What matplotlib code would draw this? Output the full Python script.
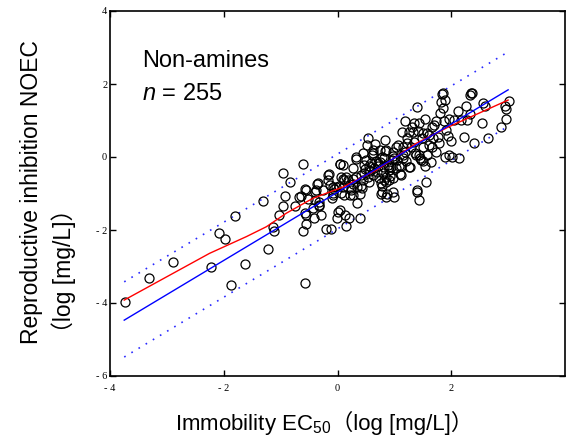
import numpy as np
import matplotlib
matplotlib.use("Agg")
import matplotlib.pyplot as plt
from matplotlib.ticker import FuncFormatter
from matplotlib.offsetbox import TextArea, HPacker, AnchoredOffsetbox

plt.rcParams['font.family'] = ['Liberation Sans', 'Noto Sans CJK JP']
plt.rcParams['mathtext.fontset'] = 'custom'
plt.rcParams['mathtext.rm'] = 'Liberation Sans'
plt.rcParams['mathtext.it'] = 'Liberation Sans:italic'

ec50 = [-3.74, -3.31, -2.89, -2.23, -2.08, -1.97, -1.87, -1.81, -1.62, -1.31,
        -1.22, -1.14, -1.12, -1.02, -0.96, -0.96, -0.93, -0.83, -0.74, -0.67,
        -0.64, -0.61, -0.60, -0.58, -0.57, -0.57, -0.55, -0.52, -0.43, -0.42,
        -0.39, -0.37, -0.36, -0.33, -0.32, -0.29, -0.25, -0.20, -0.14, -0.16,
        -0.15, -0.12, -0.09, -0.08, -0.07, -0.02, -0.01, 0.02, 0.04, 0.05,
        0.06, 0.09, 0.12, 0.14, 0.15, 0.18, 0.20, 0.22, 0.24, 0.27,
        0.28, 0.32, 0.33, 0.34, 0.35, 0.39, 0.40, 0.42, 0.43, 0.44,
        0.46, 0.47, 0.49, 0.50, 0.52, 0.53, 0.54, 0.55, 0.56, 0.57,
        0.59, 0.61, 0.62, 0.63, 0.65, 0.66, 0.68, 0.69, 0.71, 0.73,
        0.74, 0.75, 0.77, 0.78, 0.80, 0.81, 0.82, 0.84, 0.84, 0.85,
        0.87, 0.88, 0.90, 0.91, 0.92, 0.94, 0.96, 0.97, 0.98, 1.00,
        1.02, 1.03, 1.04, 1.06, 1.09, 1.10, 1.12, 1.12, 1.13, 1.15,
        1.16, 1.18, 1.19, 1.20, 1.22, 1.23, 1.25, 1.26, 1.27, 1.29,
        1.31, 1.32, 1.34, 1.35, 1.37, 1.38, 1.39, 1.40, 1.41, 1.43,
        1.44, 1.45, 1.47, 1.49, 1.50, 1.51, 1.53, 1.54, 1.56, 1.57,
        1.58, 1.60, 1.61, 1.64, 1.66, 1.67, 1.68, 1.70, 1.73, 1.74,
        1.76, 1.79, 1.80, 1.82, 1.83, 1.85, 1.86, 1.88, 1.89, 1.89,
        1.91, 1.94, 1.96, 1.96, 1.99, 2.01, 2.04, 2.11, 2.13, 2.17,
        2.23, 2.26, 2.27, 2.33, 2.35, 2.36, 2.33, 2.40, 2.54, 2.55,
        2.60, 2.64, 2.87, 2.95, 2.96, 2.97, 3.01,
        0.44, 0.32, 0.62, 0.79, 0.71, 0.27, 0.09, 0.15, 0.42, 0.24,
        0.12, 0.27, 0.77, 0.79, 0.85, 0.56,
        0.04, -0.35, -0.55, -0.40, -0.08, 0.06, 0.09, -0.32, -0.55, 0.00,
        -0.17, -0.08,
        0.85, 1.50, 1.00, 1.15, 1.43, 0.91, 0.97, 0.82, 0.97, 0.85, 1.39]
noec = [-3.98, -3.31, -2.89, -3.02, -2.09, -2.24, -3.51, -1.62, -2.93, -1.21,
        -2.53, -1.92, -2.03, -1.59, -0.43, -1.33, -1.08, -0.68, -1.33, -1.10,
        -1.06, -0.19, -2.03, -0.89, -3.44, -1.53, -1.84, -1.14, -1.41, -1.66,
        -1.18, -0.90, -0.74, -1.32, -1.34, -1.59, -0.90, -1.96, -0.76, -0.50,
        -0.47, -1.96, -1.13, -0.98, -0.89, -0.81, -1.67, -0.79, -1.45, -0.19,
        -0.99, -0.59, -0.63, -1.59, -1.89, -0.63, -1.68, -1.04, -0.90, -0.74,
        -0.61, -0.54, 0.01, -0.81, -1.27, -1.00, -1.68, -0.79, -0.86, -0.63,
        -0.45, -0.22, -0.34, -0.08, 0.33, 0.53, -0.54, -0.26, -0.68, -0.37,
        -0.16, 0.05, -0.49, 0.19, -0.31, 0.35, -0.10, -0.40, -0.25, -0.57,
        0.19, -0.13, -1.00, -0.79, -0.45, -0.28, -0.04, 0.47, 0.17, -0.54,
        -1.00, -0.22, -0.28, -0.63, -0.52, -0.28, -0.08, 0.03, 0.15, -1.09,
        -0.29, 0.28, -0.08, 0.33, -0.25, -0.47, -0.26, -0.49, 0.68, 0.28,
        -0.04, 1.00, 0.15, -0.10, 0.37, 0.51, 0.68, -0.28, -0.28, 0.28,
        0.83, 0.69, 0.94, 0.42, 0.12, 0.05, 1.38, -0.95, 0.72, -1.18,
        0.92, -0.04, -0.08, 0.51, 0.65, -0.11, 1.03, -0.25, -0.68, 0.05,
        0.65, 0.33, 0.60, -0.13, 0.83, 0.28, 0.51, 0.88, 1.00, 0.15,
        0.56, 0.37, 1.20, 1.52, 1.73, 1.74, 1.33, 1.00, 1.56, 0.01,
        0.74, 0.58, 0.05, 1.03, 0.45, 0.01, 1.01, 1.27, -0.04, 1.01,
        0.56, 1.40, 1.01, 1.70, 1.74, 1.74, 1.17, 0.37, 0.94, 1.49,
        1.40, 0.51, 0.83, 1.40, 1.31, 1.03, 1.54,
        0.10, -0.06, 0.10, 0.01, -0.17, -0.31, -0.22, -0.54, -0.48, -0.86,
        -1.04, -1.04, -0.72, -0.95, -0.68, -0.36,
        -0.20, -0.72, -0.90, -0.95, -0.81, -0.54, -0.81, -1.22, -1.59, -1.50,
        -0.63, -1.04,
        0.19, 0.28, -0.04, 0.05, 0.05, -0.36, -0.58, -0.63, -0.95, -1.09, -0.90]

# smoothed trend (red)
smooth_x = [-3.75, -3.0, -2.25, -1.60, -1.25, -0.90, -0.43, 0.10, 0.68, 1.38, 1.96, 3.0]
smooth_y = [-3.92, -3.28, -2.64, -2.18, -1.91, -1.54, -1.13, -0.82, -0.36, 0.37, 0.83, 1.56]

# regression line and prediction band (blue)
reg_x = [-3.75, 3.0]
reg_y = [-4.47, 1.84]
band_upper = [-3.42, 2.88]
band_lower = [-5.48, 0.84]

fig = plt.figure(figsize=(5.66, 4.43), dpi=100)
ax = fig.add_axes([110/566, 1 - 376/443, 455/566, 365/443])

ax.plot(ec50, noec, 'o', mfc='none', mec='black', ms=6.5, mew=0.9, zorder=3)
ax.plot(smooth_x, smooth_y, color='#ff0000', lw=1.0, zorder=4)
ax.plot(reg_x, reg_y, color='#0000ff', lw=1.0, zorder=4)
ax.plot(reg_x, band_upper, color='#2a2aff', lw=1.2, ls=(0, (1, 4)))
ax.plot(reg_x, band_lower, color='#2a2aff', lw=1.2, ls=(0, (1, 4)))

ax.set_xlim(-4, 4)
ax.set_ylim(-6, 4)
ax.set_xticks([-4, -2, 0, 2])
ax.set_yticks([-6, -4, -2, 0, 2, 4])
fmt = FuncFormatter(lambda v, p: ('- %d' % abs(v)) if v < 0 else '%d' % v)
ax.xaxis.set_major_formatter(fmt)
ax.yaxis.set_major_formatter(fmt)
ax.tick_params(direction='in', length=4, width=1, top=True, right=True,
               labelsize=7.5)
ax.tick_params(axis='x', pad=6)
ax.tick_params(axis='y', pad=2)
for lab in ax.get_xticklabels() + ax.get_yticklabels():
    lab.set_family('Liberation Serif')
for s in ax.spines.values():
    s.set_linewidth(1.2)

ax.text(-3.44, 2.47, 'Non-amines', fontsize=17, va='baseline')
ax.text(-3.44, 1.56, '$n$ = 255', fontsize=17, va='baseline')

# x label: mathtext part and CJK-bracket part packed on one baseline
xl1 = TextArea('Immobility EC$_{50}$', textprops=dict(fontsize=16))
xl2 = TextArea('（log [mg/L]）', textprops=dict(fontsize=16))
xlab = HPacker(children=[xl1, xl2], align='baseline', pad=0, sep=0)
box = AnchoredOffsetbox(loc='center', child=xlab, frameon=False, pad=0,
                        bbox_to_anchor=(324/566, 1 - 424/443),
                        bbox_transform=fig.transFigure, borderpad=0)
fig.add_artist(box)

fig.text(48/566, 1 - 192/443, 'Reproductive inhibition NOEC\n（log [mg/L]）',
         fontsize=16.5, ha='center', va='center', rotation=90,
         multialignment='left', linespacing=1.4)

fig.savefig('out.png', dpi=100)
